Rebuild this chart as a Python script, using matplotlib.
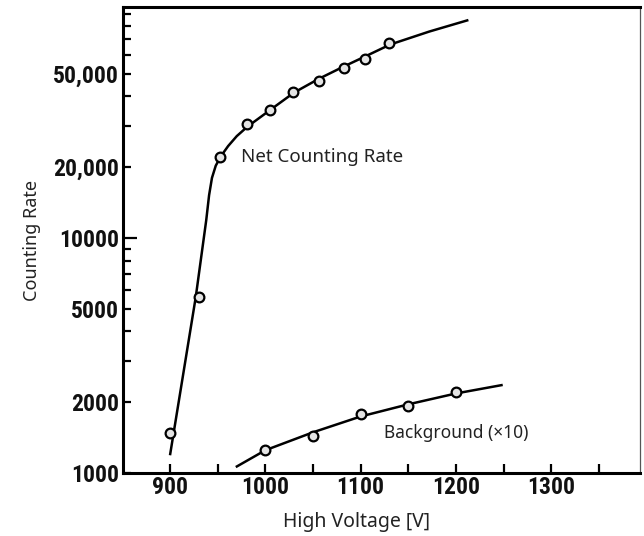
import matplotlib
matplotlib.use("Agg")
import matplotlib.pyplot as plt
from matplotlib import font_manager
from matplotlib.ticker import FixedLocator, FixedFormatter, NullFormatter

# ----- DATA -----
# measured points (circles)
net_volts = [900, 930, 952, 981, 1005, 1029, 1056, 1082, 1105, 1130]
net_rate = [1480, 5610, 22100, 30400, 35000, 41700, 46600, 53000, 57900, 67200]

bg_volts = [1000, 1050, 1100, 1150, 1200]
bg_rate = [1250, 1440, 1780, 1930, 2210]

# hand drawn fit curves
net_curve_v = [900, 927, 938, 941, 944, 948, 953.5, 961, 970, 981, 1005, 1030, 1056, 1081, 1106, 1131, 1172, 1213]
net_curve_c = [1190, 5600, 11900, 15200, 18000, 20300, 22300, 24600, 27100, 29700,
               35000, 41500, 47500, 53300, 59500, 66500, 75500, 84500]

bg_curve_v = [969, 1000, 1050, 1100, 1150, 1200, 1249]
bg_curve_c = [1060, 1250, 1490, 1740, 1960, 2180, 2370]

y_major = [1000, 2000, 5000, 10000, 20000, 50000]
y_major_labels = ["1000", "2000", "5000", "10000", "20,000", "50,000"]
y_minor = [3000, 4000, 6000, 7000, 8000, 9000, 30000, 40000, 60000, 70000, 80000, 90000]
x_major = [900, 1000, 1100, 1200, 1300]
x_minor = [950, 1050, 1150, 1250, 1350]

# pick a narrow bold face for the tick numbers if one is around
fonts = font_manager.fontManager.ttflist
tick_font = None
for cand in ["Roboto Condensed", "Liberation Sans Narrow", "Open Sans Condensed", "Arial Narrow"]:
    if any(f.name == cand for f in fonts):
        tick_font = font_manager.FontProperties(family=cand, weight="bold", size=17)
        break
if tick_font is None:
    cond = [f for f in fonts if f.stretch == "condensed" and f.name in ("DejaVu Sans", "Roboto", "Open Sans", "Noto Sans")]
    if cond:
        tick_font = font_manager.FontProperties(family=cond[0].name, stretch="condensed", weight="bold", size=17)
    else:
        tick_font = font_manager.FontProperties(family="Roboto", weight="bold", size=15)

fig = plt.figure(figsize=(6.44, 5.36), dpi=100)
ax = fig.add_axes([0.191, 0.1175, 0.8028, 0.8694])

ax.set_yscale("log")
ax.set_xlim(850.7, 1393)
ax.set_ylim(1000, 96000)

ax.plot(net_curve_v, net_curve_c, color="black", lw=1.8, solid_capstyle="butt", solid_joinstyle="round")
ax.plot(bg_curve_v, bg_curve_c, color="black", lw=1.8, solid_capstyle="butt", solid_joinstyle="round")
ax.plot(net_volts, net_rate, "o", ms=7, mfc="#e4e4e4", mec="black", mew=1.6)
ax.plot(bg_volts, bg_rate, "o", ms=7, mfc="#e4e4e4", mec="black", mew=1.6)

txt_font = "Noto Sans"
ax.text(974, 22000, "Net Counting Rate", ha="left", va="center",
        fontsize=13.5, family=txt_font, color="#222222")
ax.text(1124, 1480, "Background (\u00d710)", ha="left", va="center",
        fontsize=12.5, family=txt_font, color="#222222")

# ----- AXES -----
ax.yaxis.set_major_locator(FixedLocator(y_major))
ax.yaxis.set_major_formatter(FixedFormatter(y_major_labels))
ax.yaxis.set_minor_locator(FixedLocator(y_minor))
ax.yaxis.set_minor_formatter(NullFormatter())
ax.xaxis.set_major_locator(FixedLocator(x_major))
ax.xaxis.set_minor_locator(FixedLocator(x_minor))

for lab in ax.get_yticklabels() + ax.get_xticklabels():
    lab.set_fontproperties(tick_font)

ax.tick_params(axis="y", which="both", direction="in", length=6, width=1.6, pad=3, colors="black")
ax.tick_params(axis="x", which="both", direction="in", length=6.5, width=1.6, pad=2, colors="black")
ax.tick_params(labelcolor="#111111")

# the 10000 tick is drawn longer
ax.yaxis.get_major_ticks()[3].tick1line.set_markersize(10)

for side in ["left", "bottom", "top"]:
    ax.spines[side].set_linewidth(2.2)
ax.spines["right"].set_linewidth(0.9)
ax.spines["right"].set_color("#555555")

ax.set_ylabel("Counting Rate", family=txt_font, fontsize=13, color="#222222")
ax.set_xlabel("High Voltage [V]", family=txt_font, fontsize=14, color="#222222")
ax.yaxis.set_label_coords(-0.158, 0.5)
ax.xaxis.set_label_coords(0.452, -0.083)

fig.savefig("out.png", dpi=100)
